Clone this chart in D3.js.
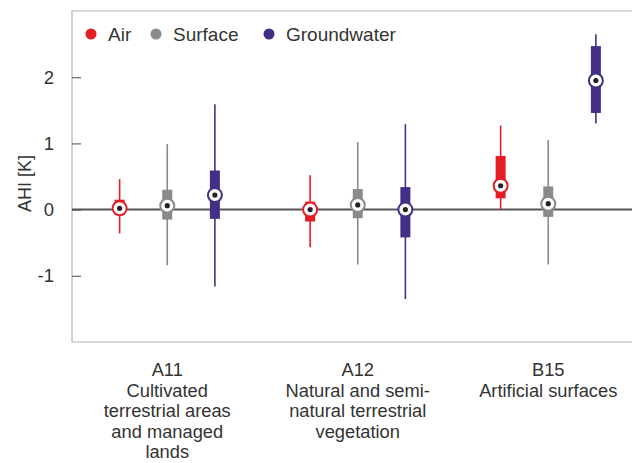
<!DOCTYPE html>
<html>
<head>
<meta charset="utf-8">
<script src="https://cdn.jsdelivr.net/npm/d3@7"></script>
<style>
  body { margin: 0; background: #fff; }
  text { font-family: "Liberation Sans", Arial, sans-serif; fill: #333; }
</style>
</head>
<body>
<svg id="chart" width="632" height="463"></svg>
<script>
'use strict'

// land cover classes (first line code, then description lines)
const categories = ['A11', 'A12', 'B15']
const categoryLines = [
  ['A11', 'Cultivated', 'terrestrial areas', 'and managed', 'lands'],
  ['A12', 'Natural and semi-', 'natural terrestrial', 'vegetation'],
  ['B15', 'Artificial surfaces']
]
const seriesNames = ['Air', 'Surface', 'Groundwater']
const seriesColors = ['#e41e25', '#8a8a8a', '#432f86']

// per series, per category: [whiskerLow, q1, median, q3, whiskerHigh]
const airStats = [
  [-0.36, -0.08, 0.02, 0.15, 0.46],
  [-0.57, -0.18, 0.00, 0.12, 0.52],
  [0.00, 0.17, 0.36, 0.81, 1.27]
]
const surfaceStats = [
  [-0.84, -0.15, 0.06, 0.30, 0.99],
  [-0.83, -0.13, 0.07, 0.31, 1.02],
  [-0.83, -0.11, 0.09, 0.35, 1.05]
]
const groundStats = [
  [-1.16, -0.14, 0.22, 0.59, 1.59],
  [-1.35, -0.42, 0.00, 0.34, 1.29],
  [1.30, 1.46, 1.95, 2.47, 2.65]
]
const yTicks = [-1, 0, 1, 2]

const svg = d3.select('#chart')
const plotLeft = 72, plotTop = 11, plotBottom = 342

const x = d3.scaleLinear().domain([0.5, 3.5]).range([plotLeft, plotLeft + 3 * 190.5])
const y = d3.scaleLinear().domain([-2, 3]).range([plotBottom, plotTop])
const offset = d3.scaleOrdinal().domain(seriesNames).range([-0.25, 0, 0.25])

// frame (no right edge, it runs off the picture)
svg.append('path')
  .attr('d', `M632,${plotTop}H${plotLeft}V${plotBottom}H632`)
  .attr('fill', 'none')
  .attr('stroke', '#b4b4b4')
  .attr('stroke-width', 1.2)

// y axis with inward ticks, plain hyphen for minus
const yAxis = d3.axisLeft(y).tickValues(yTicks).tickSize(-9).tickPadding(18)
  .tickFormat(d => String(d))
const ga = svg.append('g').attr('transform', `translate(${plotLeft},0)`).call(yAxis)
ga.select('.domain').remove()
ga.selectAll('.tick line').attr('stroke', '#666').attr('stroke-width', 1.2)
ga.selectAll('.tick text').style('font-size', '18.5px').attr('fill', '#444')

svg.append('text')
  .attr('transform', `translate(31,${(plotTop + plotBottom) / 2 + 7}) rotate(-90)`)
  .attr('text-anchor', 'middle')
  .style('font-size', '18px')
  .text('AHI [K]')

// zero line
svg.append('line')
  .attr('x1', plotLeft).attr('x2', 632)
  .attr('y1', y(0)).attr('y2', y(0))
  .attr('stroke', '#555').attr('stroke-width', 2)

const allStats = [airStats, surfaceStats, groundStats]
const boxes = []
seriesNames.forEach((s, si) => {
  categories.forEach((c, ci) => {
    const v = allStats[si][ci]
    boxes.push({ s: s, color: seriesColors[si], cx: x(ci + 1 + offset(s)), lo: v[0], q1: v[1], med: v[2], q3: v[3], hi: v[4] })
  })
})

const g = svg.append('g').selectAll('g').data(boxes).join('g')
g.append('line')
  .attr('x1', d => d.cx).attr('x2', d => d.cx)
  .attr('y1', d => y(d.lo)).attr('y2', d => y(d.hi))
  .attr('stroke', d => d.color).attr('stroke-width', 1.6)
g.append('rect')
  .attr('x', d => d.cx - 5).attr('width', 10)
  .attr('y', d => y(d.q3)).attr('height', d => y(d.q1) - y(d.q3))
  .attr('fill', d => d.color)
g.append('circle')
  .attr('cx', d => d.cx).attr('cy', d => y(d.med)).attr('r', 7)
  .attr('fill', '#fff').attr('stroke', d => d.color).attr('stroke-width', 2)
g.append('circle')
  .attr('cx', d => d.cx).attr('cy', d => y(d.med)).attr('r', 2.6)
  .attr('fill', '#222')

// legend
const legendX = [91, 156, 269]
const lg = svg.append('g').selectAll('g').data(seriesNames).join('g')
  .attr('transform', (d, i) => `translate(${legendX[i]},34)`)
lg.append('circle').attr('r', 5.5).attr('fill', (d, i) => seriesColors[i])
lg.append('text').attr('x', 17).attr('y', 7)
  .style('font-size', '19px').text(d => d)

// category labels
const cl = svg.append('g').selectAll('text').data(categoryLines).join('text')
  .attr('x', (d, i) => x(i + 1))
  .attr('y', 376)
  .attr('text-anchor', 'middle')
  .style('font-size', '18.3px')
cl.selectAll('tspan').data(d => d).join('tspan')
  .attr('x', function () { return d3.select(this.parentNode).attr('x') })
  .attr('dy', (d, i) => i === 0 ? 0 : 20.5)
  .text(d => d)
</script>
</body>
</html>
